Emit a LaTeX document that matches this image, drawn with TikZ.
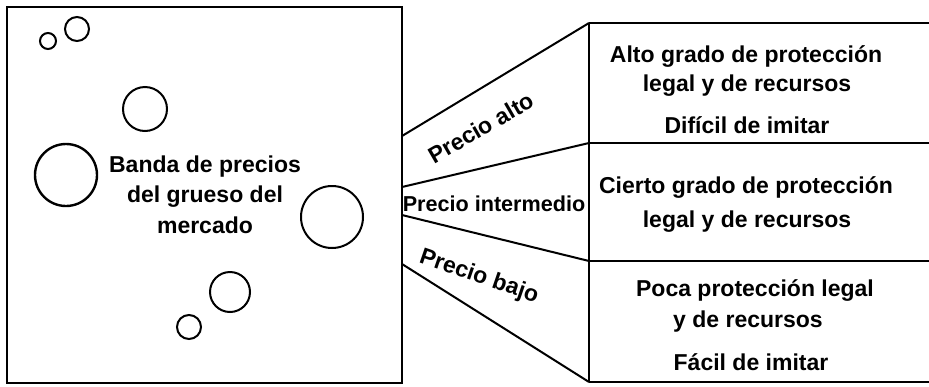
\documentclass[tikz,border=0pt]{standalone}
\usepackage{fontspec}
\setmainfont{Liberation Sans}
\begin{document}
\begin{tikzpicture}[x=0.5pt,y=-0.5pt,
  txt/.style={font=\fontsize{11.5}{14.5}\selectfont\bfseries, inner sep=0pt, align=center},
  ring/.style={draw, line width=1pt},
  edge/.style={line width=1pt},
  frame/.style={line width=1.3pt}]
\useasboundingbox (0,0) rectangle (929,386);
% left market box
\draw[frame] (7,7) rectangle (402,383);
% circles
\draw[ring] (48,41) circle[radius=8];
\draw[ring] (77,29) circle[radius=12];
\draw[ring] (145,109) circle[radius=22];
\draw[ring, line width=1.2pt] (66,175) circle[radius=31];
\draw[ring] (332,217) circle[radius=31];
\draw[ring] (230,292) circle[radius=20];
\draw[ring] (189,327) circle[radius=12];
\node[txt] (banda1) at (205,167) {Banda de precios};
\node[txt] (banda2) at (205,197) {del grueso del};
\node[txt] (banda3) at (205,225) {mercado};
% coordinates
\coordinate (a1) at (402,136);
\coordinate (a2) at (402,187);
\coordinate (a3) at (402,215);
\coordinate (a4) at (402,264);
\coordinate (b1) at (589,23);
\coordinate (b2) at (589,143);
\coordinate (b3) at (589,261);
\coordinate (b4) at (589,382);
\coordinate (e1) at (929,23);
\coordinate (e2) at (929,143);
\coordinate (e3) at (929,261);
\coordinate (e4) at (929,382);
% connectors
\draw[edge] (a1) -- (b1);
\draw[edge] (a2) -- (b2);
\draw[edge] (a3) -- (b3);
\draw[edge] (a4) -- (b4);
\draw[edge] (b1) -- (b4);
\draw[edge] (b1) -- (e1);
\draw[edge] (b2) -- (e2);
\draw[edge] (b3) -- (e3);
\draw[edge] (b4) -- (e4);
% labels
\node[txt, rotate=30] (palto) at (481,128) {Precio alto};
\node[txt, font=\fontsize{10.8}{13}\selectfont\bfseries] (pint) at (494,204) {Precio intermedio};
\node[txt, rotate=-19] (pbajo) at (479,277) {Precio bajo};
% right texts
\node[txt] (r1a) at (746,57) {Alto grado de protección};
\node[txt] (r1b) at (747,86) {legal y de recursos};
\node[txt] (r1c) at (747,125) {Difícil de imitar};
\node[txt] (r2a) at (746,187) {Cierto grado de protección};
\node[txt] (r2b) at (747,222) {legal y de recursos};
\node[txt] (r3a) at (755,290) {Poca protección legal};
\node[txt] (r3b) at (748,322) {y de recursos};
\node[txt] (r3c) at (751,362) {Fácil de imitar};
\end{tikzpicture}
\end{document}
